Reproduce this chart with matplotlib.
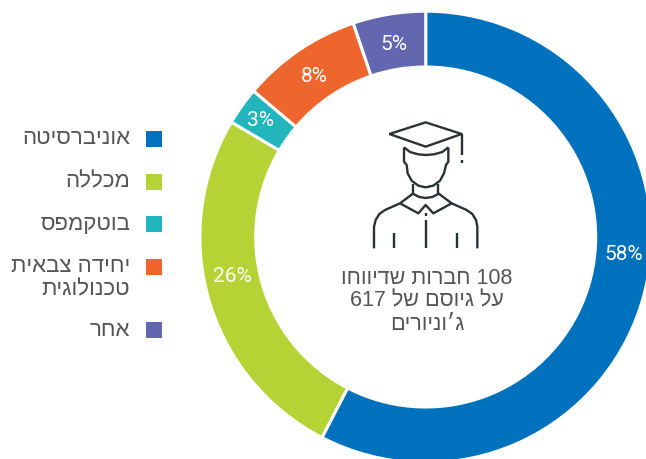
import re
import matplotlib
matplotlib.use("Agg")
import matplotlib.pyplot as plt
from matplotlib.patches import Rectangle

categories = ["אוניברסיטה", "מכללה", "בוטקמפס", "יחידה צבאית\nטכנולוגית", "אחר"]
shares = [57.6, 25.9, 2.7, 8.6, 5.2]  # slice sizes as measured on the ring
pct_labels = ["58%", "26%", "3%", "8%", "5%"]
colors = ["#0071bc", "#b5d334", "#23b5bc", "#ee652e", "#6267b0"]
center_lines = ["108 חברות שדיווחו", "על גיוסם של 617", "ג׳וניורים"]

W, H = 646, 459
CX, CY, R, RIN = 425.7, 237, 225.8, 170
TXT = "#555555"
plt.rcParams["font.family"] = ["Liberation Sans", "DejaVu Sans"]


def vis(s):
    # matplotlib has no bidi, so flip the string and put numbers back
    out = s[::-1]
    return re.sub(r"\d+", lambda m: m.group(0)[::-1], out)


fig = plt.figure(figsize=(W / 100, H / 100), dpi=100)
ax = fig.add_axes([0, 0, 1, 1])
ax.pie(shares, colors=colors, startangle=90, counterclock=False,
       center=(CX, H - CY), radius=R, frame=True,
       wedgeprops=dict(width=R - RIN, edgecolor="white", linewidth=2.2))
ax.set_xlim(0, W)
ax.set_ylim(0, H)
ax.set_aspect("equal")
ax.axis("off")

# overlay in image pixels
ov = fig.add_axes([0, 0, 1, 1], facecolor="none")
ov.set_xlim(0, W)
ov.set_ylim(H, 0)
ov.axis("off")

# slice labels sit off-centre in the original
label_pos = [(624, 254), (232, 276), (261, 120), (314, 77), (394, 45)]
for s, (x, y) in zip(pct_labels, label_pos):
    ov.text(x, y, s, color="white", fontsize=15, family="Roboto", weight="normal",
            ha="center", va="center")

# legend
leg_y = [139, 182, 224, 267, 330]
for name, c, y in zip(categories, colors, leg_y):
    ov.add_patch(Rectangle((146, y - 8), 16, 16, facecolor=c, edgecolor="none"))
    lines = name.split("\n")
    for i, line in enumerate(lines):
        ov.text(130, y + i * 23, vis(line), color=TXT, fontsize=16,
                ha="right", va="center")

# centre text
for line, y in zip(center_lines, [278, 301, 325]):
    ov.text(427, y, vis(line), color=TXT, fontsize=15.5, ha="center", va="center")

# graduate icon
icon = [
    [(88, 72), (197, 37), (305, 72), (197, 110), (88, 72)],
    [(305, 72), (305, 135)],
    [(305, 150), (305, 160)],
    [(132, 112), (132, 155), (140, 165), (143, 190), (155, 212), (175, 227), (197, 232),
     (220, 227), (240, 212), (252, 190), (258, 165), (265, 155), (265, 112)],
    [(132, 112), (150, 126), (175, 133), (197, 135), (222, 133), (247, 126), (265, 112)],
    [(160, 222), (160, 252)],
    [(235, 222), (235, 252)],
    [(160, 252), (178, 261), (197, 264), (217, 261), (235, 252)],
    [(160, 250), (120, 280), (175, 310), (197, 285), (220, 310), (275, 280), (235, 250)],
    [(120, 280), (75, 300), (58, 312), (47, 330), (42, 350), (42, 415)],
    [(275, 280), (320, 300), (337, 312), (348, 330), (352, 350), (352, 415)],
    [(102, 368), (102, 415)],
    [(197, 330), (197, 415)],
    [(197, 308), (197, 318)],
    [(292, 368), (292, 415)],
]
for seg in icon:
    xs = [360 + p[0] / 3 for p in seg]
    ys = [110 + p[1] / 3 for p in seg]
    ov.plot(xs, ys, color="#2b3233", lw=1.7, solid_capstyle="butt", solid_joinstyle="round")
ov.set_xlim(0, W)
ov.set_ylim(H, 0)

fig.savefig("out.png", dpi=100)
